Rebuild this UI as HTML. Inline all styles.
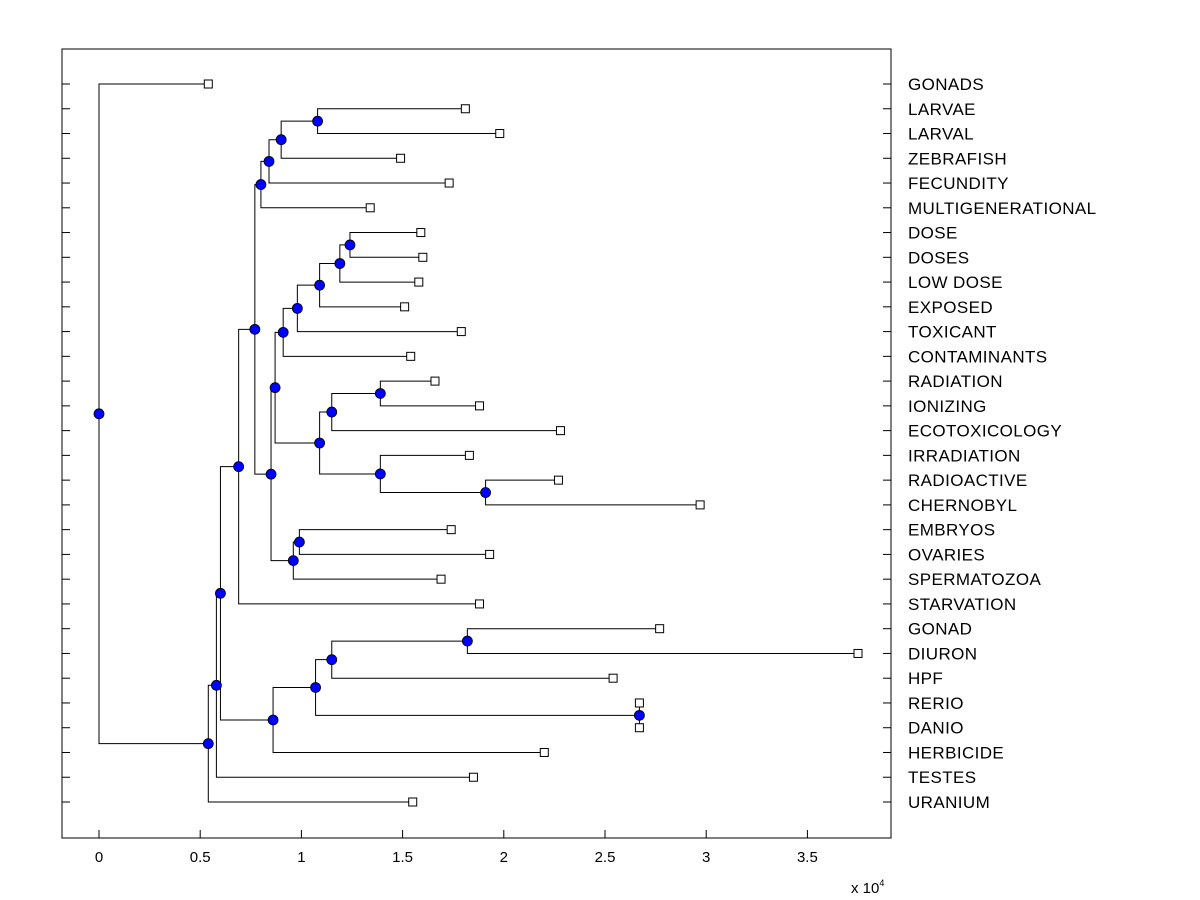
<!DOCTYPE html>
<html><head><meta charset="utf-8"><style>
body{margin:0;background:#fff;}
svg{display:block;font-family:"Liberation Sans",Arial,sans-serif;}
</style></head><body>
<svg id="c" width="1200" height="900"></svg>
<script>
const leafNames=["GONADS","LARVAE","LARVAL","ZEBRAFISH","FECUNDITY","MULTIGENERATIONAL","DOSE","DOSES","LOW DOSE","EXPOSED","TOXICANT","CONTAMINANTS","RADIATION","IONIZING","ECOTOXICOLOGY","IRRADIATION","RADIOACTIVE","CHERNOBYL","EMBRYOS","OVARIES","SPERMATOZOA","STARVATION","GONAD","DIURON","HPF","RERIO","DANIO","HERBICIDE","TESTES","URANIUM"];
const leafHeights=[0.54,1.81,1.98,1.49,1.73,1.34,1.59,1.60,1.58,1.51,1.79,1.54,1.66,1.88,2.28,1.83,2.27,2.97,1.74,1.93,1.69,1.88,2.77,3.75,2.54,2.67,2.67,2.20,1.85,1.55];
// merges: [name, childA, childB, height]
const merges=[
["N","LARVAE","LARVAL",1.08],["M","N","ZEBRAFISH",0.90],["L","M","FECUNDITY",0.84],["J","L","MULTIGENERATIONAL",0.80],
["V","DOSE","DOSES",1.24],["U","V","LOW DOSE",1.19],["T","U","EXPOSED",1.09],["S","T","TOXICANT",0.98],["Q","S","CONTAMINANTS",0.91],
["Y","RADIATION","IONIZING",1.39],["W","Y","ECOTOXICOLOGY",1.15],["Z","RADIOACTIVE","CHERNOBYL",1.91],["X","IRRADIATION","Z",1.39],["R","W","X",1.09],
["O","Q","R",0.87],["AA","EMBRYOS","OVARIES",0.99],["P","AA","SPERMATOZOA",0.96],["K","O","P",0.85],["I","J","K",0.77],["D","I","STARVATION",0.69],
["H","GONAD","DIURON",1.82],["G","H","HPF",1.15],["RD","RERIO","DANIO",2.67],["F","G","RD",1.07],["E","F","HERBICIDE",0.86],["C","D","E",0.60],
["B","C","TESTES",0.58],["A","B","URANIUM",0.54],["ROOT","GONADS","A",0.00]];
const xTicks=[0,0.5,1,1.5,2,2.5,3,3.5];
const xTickLabels=["0","0.5","1","1.5","2","2.5","3","3.5"];

const NS="http://www.w3.org/2000/svg",svg=document.getElementById('c');
const L=62,R=891,T=49,B=838;
const X=v=>99+v*202.4;
const Y=i=>84+i*(802-84)/(leafNames.length-1);
function el(t,a,p){const e=document.createElementNS(NS,t);for(const k in a)e.setAttribute(k,a[k]);(p||svg).appendChild(e);return e;}
const frame=el('rect',{x:L,y:T,width:R-L,height:B-T,fill:'none',stroke:'#000','stroke-width':1});


const pos={};
leafNames.forEach((n,i)=>{pos[n]={h:leafHeights[i],y:Y(i)};
 const t1=el('line',{x1:L,y1:Y(i),x2:L+8,y2:Y(i),stroke:'#000'});
 
 
 const t2=el('line',{x1:R-8,y1:Y(i),x2:R,y2:Y(i),stroke:'#000'});
 
 
 const tx=el('text',{x:908,y:Y(i)+6,'font-size':17,'letter-spacing':0.4});tx.textContent=n;
 
 
});
xTicks.forEach((v,i)=>{
 const t=el('line',{x1:X(v),y1:B,x2:X(v),y2:B-8,stroke:'#000'});
 
 
 const tx=el('text',{x:X(v),y:862,'font-size':15,'text-anchor':'middle'});tx.textContent=xTickLabels[i];
 
 
});
const ex=el('text',{x:851,y:893,'font-size':15});ex.innerHTML='x 10<tspan font-size="9" dy="-7">4</tspan>';


const lg=el('g',{stroke:'#000','stroke-width':1,fill:'none'});


const dots=[];
merges.forEach(m=>{const a=pos[m[1]],b=pos[m[2]],h=m[3];
 const y=(a.y+b.y)/2;pos[m[0]]={h:h,y:y};
 el('path',{d:`M${X(a.h)},${a.y}H${X(h)}V${b.y}H${X(b.h)}`},lg);
 dots.push([X(h),y]);
});
leafNames.forEach((n,i)=>{const s=el('rect',{x:X(leafHeights[i])-4,y:Y(i)-4,width:8,height:8,fill:'#fff',stroke:'#000'});
 
 
});
dots.forEach(d=>{const c=el('circle',{cx:d[0],cy:d[1],r:5,fill:'#0000ff',stroke:'#000','stroke-width':0.8});
 
 
});
</script>
</body></html>
